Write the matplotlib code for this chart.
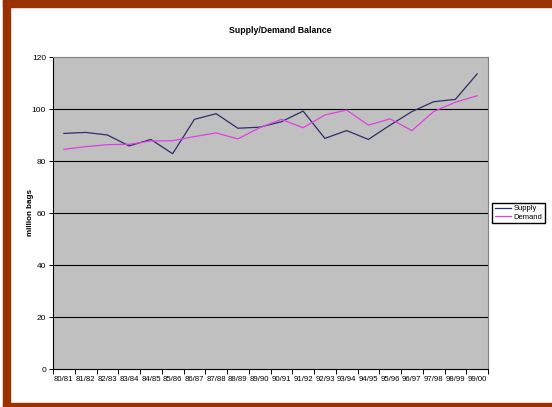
import matplotlib.pyplot as plt
import numpy as np
from matplotlib.patches import Rectangle
from matplotlib.ticker import FixedLocator, NullFormatter

plt.rcParams['font.family'] = ['Liberation Sans', 'DejaVu Sans']

seasons = ['80/81', '81/82', '82/83', '83/84', '84/85', '85/86', '86/87',
           '87/88', '88/89', '89/90', '90/91', '91/92', '92/93', '93/94',
           '94/95', '95/96', '96/97', '97/98', '98/99', '99/00']
supply = [90.6, 91.0, 90.0, 85.8, 88.3, 82.8, 96.0, 98.2, 92.6, 93.0,
          95.1, 99.2, 88.7, 91.7, 88.3, 93.8, 99.0, 102.8, 103.7, 113.5]
demand = [84.5, 85.5, 86.3, 86.4, 87.7, 87.8, 89.4, 90.8, 88.5, 92.8,
          96.0, 92.8, 97.7, 99.6, 93.8, 96.2, 91.7, 99.0, 102.6, 105.1]

W, H = 552, 407
fig = plt.figure(figsize=(W / 100, H / 100), dpi=100)

# frame round the page
edge = '#9a3200'
fig.patches.append(Rectangle((3 / W, 400 / H), 1, 7 / H, transform=fig.transFigure,
                             color=edge, zorder=0))
fig.patches.append(Rectangle((3 / W, 1 / H), 7 / W, 406 / H, transform=fig.transFigure,
                             color=edge, zorder=0))
fig.patches.append(Rectangle((3 / W, 1 / H), 1, 3 / H, transform=fig.transFigure,
                             color=edge, zorder=0))

ax = fig.add_axes([53 / W, (H - 369) / H, (488 - 53) / W, (369 - 57) / H])
ax.set_facecolor('#c0c0c0')

x = np.arange(len(seasons))
ax.plot(x, supply, color='#2e2e6a', lw=0.9, label='Supply', zorder=3)
ax.plot(x, demand, color='#e040e0', lw=0.9, label='Demand', zorder=3)

ax.set_xlim(-0.5, len(seasons) - 0.5)
ax.set_ylim(0, 120)
ax.set_yticks(range(0, 121, 20))
ax.tick_params(axis='y', labelsize=6, length=3, width=0.7, pad=2, color='black')
for y in range(20, 101, 20):
    ax.axhline(y, color='black', lw=0.8, zorder=1)

# tick marks between seasons, labels centred on each season
ax.xaxis.set_major_locator(FixedLocator(np.arange(-0.5, len(seasons), 1.0)))
ax.xaxis.set_major_formatter(NullFormatter())
ax.xaxis.set_minor_locator(FixedLocator(x))
ax.set_xticklabels(seasons, minor=True)
ax.tick_params(axis='x', which='major', length=3.5, width=0.7, color='black')
ax.tick_params(axis='x', which='minor', length=0, labelsize=5.6, pad=5)

for side in ('top', 'right'):
    ax.spines[side].set_color('#808080')
    ax.spines[side].set_linewidth(0.8)
for side in ('left', 'bottom'):
    ax.spines[side].set_color('black')
    ax.spines[side].set_linewidth(0.8)

ax.set_ylabel('million bags', fontsize=5.8, fontweight='bold', va='center')
ax.yaxis.set_label_coords(-23 / 435, 0.5)
fig.text(0.507, 0.925, 'Supply/Demand Balance', ha='center', va='center',
         fontsize=6.3, fontweight='bold')

fig.legend(loc='center', bbox_to_anchor=(518.5 / W, (H - 213) / H),
           fontsize=5.5, frameon=True, fancybox=False, edgecolor='black',
           framealpha=1, handlelength=2.2, handletextpad=0.3,
           borderpad=0.3, labelspacing=0.2, borderaxespad=0)

fig.savefig('out.png', dpi=100)
